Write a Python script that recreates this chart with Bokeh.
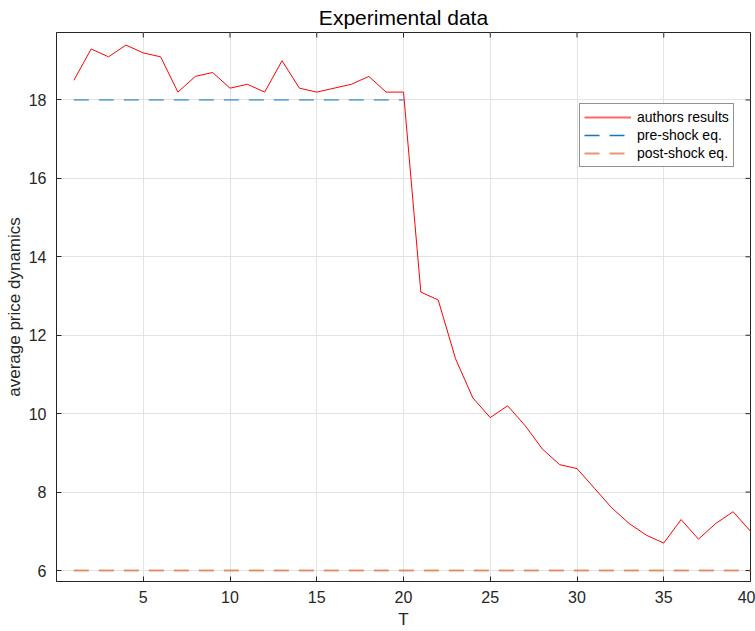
from bokeh.plotting import figure
from bokeh.models import Range1d, Legend, LegendItem, FixedTicker
from bokeh.embed import file_html
from bokeh.resources import INLINE

T = list(range(1, 41))
authors = [18.5, 19.3, 19.1, 19.4, 19.2, 19.1, 18.2, 18.6, 18.7, 18.3,
           18.4, 18.2, 19.0, 18.3, 18.2, 18.3, 18.4, 18.6, 18.2, 18.2,
           13.1, 12.9, 11.4, 10.4, 9.9, 10.2, 9.7, 9.1, 8.7, 8.6,
           8.1, 7.6, 7.2, 6.9, 6.7, 7.3, 6.8, 7.2, 7.5, 7.0]
pre_T = [1, 20]
pre_eq = [18, 18]
post_T = [1, 40]
post_eq = [6, 6]
x_ticks = [5, 10, 15, 20, 25, 30, 35, 40]
y_ticks = [6, 8, 10, 12, 14, 16, 18]
x_lim = (0, 40)
y_lim = (5.72, 19.72)

FONT = "Liberation Sans"
AX = "#262626"
NAN = float("nan")

W, H = 755, 631
BL, BR, BT, BB = 56, 5, 32, 50

p = figure(width=W, height=H, output_backend="svg", toolbar_location=None,
           x_range=Range1d(*x_lim), y_range=Range1d(*y_lim),
           min_border_left=BL, min_border_right=BR, min_border_top=BT, min_border_bottom=BB)
p.title.text = "Experimental data"
p.title.align = "center"
p.title.text_font = FONT
p.title.text_font_size = "21px"
p.title.text_font_style = "normal"
p.title.text_color = "#000000"
p.title.offset = 0
p.title.standoff = 7
p.outline_line_color = AX
p.outline_line_width = 1
p.background_fill_color = "white"
p.border_fill_color = "white"

for ax in (p.xaxis[0], p.yaxis[0]):
    ax.major_tick_in = 5
    ax.major_tick_out = 0
    ax.minor_tick_in = 0
    ax.minor_tick_out = 0
    ax.axis_line_color = AX
    ax.major_tick_line_color = AX
    ax.major_label_text_font = FONT
    ax.major_label_text_font_size = "16px"
    ax.major_label_text_color = AX
    ax.axis_label_text_font = FONT
    ax.axis_label_text_font_size = "17px"
    ax.axis_label_text_font_style = "normal"
    ax.axis_label_text_color = AX

p.xaxis[0].ticker = FixedTicker(ticks=x_ticks)
p.yaxis[0].ticker = FixedTicker(ticks=y_ticks)
p.xaxis[0].axis_label = "T"
p.yaxis[0].axis_label = "average price dynamics"
p.xaxis[0].major_label_standoff = 9
p.xaxis[0].axis_label_standoff = 4
p.yaxis[0].major_label_standoff = 10
p.yaxis[0].axis_label_standoff = 2

p.grid.grid_line_color = "#e3e3e3"
p.grid.grid_line_width = 1
p.xgrid.ticker = FixedTicker(ticks=x_ticks)
p.ygrid.ticker = FixedTicker(ticks=y_ticks)

# inward ticks on the top and right edges of the box (5 px long)
TICK_PX = 5
dy = (y_lim[1] - y_lim[0]) * TICK_PX / (H - BT - BB)
dx = (x_lim[1] - x_lim[0]) * TICK_PX / (W - BL - BR)
p.segment(x0=x_ticks, y0=[y_lim[1]] * len(x_ticks), x1=x_ticks, y1=[y_lim[1] - dy] * len(x_ticks),
          line_color=AX, line_width=1)
p.segment(x0=[x_lim[1]] * len(y_ticks), y0=y_ticks, x1=[x_lim[1] - dx] * len(y_ticks), y1=y_ticks,
          line_color=AX, line_width=1)

r1 = p.line(T, authors, line_color="#FF0000", line_width=1)
r2 = p.line(pre_T, pre_eq, line_color="#0072BD", line_width=1, line_dash="15 10")
r3 = p.line(post_T, post_eq, line_color="#D95319", line_alpha=0.6, line_width=2, line_dash="15 10")

# legend swatches (no visible data of their own)
l1 = p.line(x=[NAN], y=[NAN], line_color="#FF0000", line_alpha=0.6, line_width=2)
l2 = p.line(x=[NAN], y=[NAN], line_color="#0072BD", line_alpha=0.95, line_width=1.5, line_dash="15 10")
l3 = p.line(x=[NAN], y=[NAN], line_color="#D95319", line_alpha=0.6, line_width=2, line_dash="15 10")

legend = Legend(items=[LegendItem(label="authors results", renderers=[l1]),
                       LegendItem(label="pre-shock eq.", renderers=[l2]),
                       LegendItem(label="post-shock eq.", renderers=[l3])],
                location=(523, 414))
legend.label_text_font = FONT
legend.label_text_font_size = "14px"
legend.label_text_color = "#000000"
legend.border_line_color = AX
legend.border_line_width = 1
legend.background_fill_alpha = 1
legend.glyph_width = 47
legend.glyph_height = 18
legend.label_height = 18
legend.spacing = 0
legend.padding = 4
legend.margin = 0
legend.label_standoff = 6
p.add_layout(legend, "center")

open("out.html", "w").write(file_html(p, INLINE))
